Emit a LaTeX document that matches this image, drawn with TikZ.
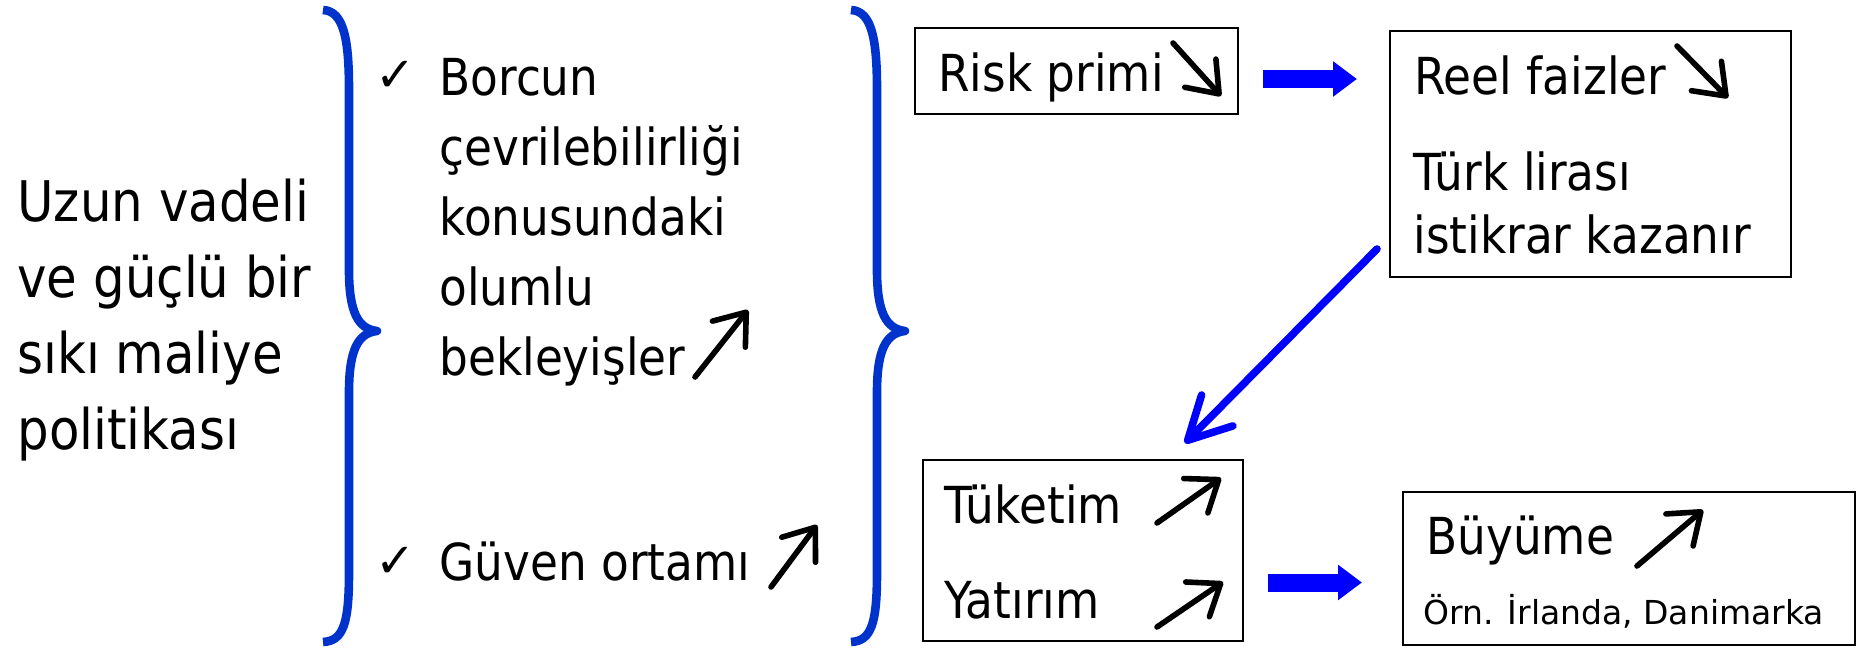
\documentclass[tikz,border=0pt]{standalone}
\usepackage{amssymb}
\usepackage{fontspec}
\setmainfont{DejaVu Sans}[FakeStretch=0.89]
\newfontfamily\plainfont{DejaVu Sans}
\usetikzlibrary{arrows.meta,calc}
\definecolor{braceblue}{RGB}{0,51,204}
\definecolor{arrowblue}{RGB}{0,0,255}
\tikzset{
  bracestyle/.style={draw=braceblue, line width=4.3pt, line join=round},
  boxstyle/.style={draw=black, line width=1pt, inner sep=0pt},
  maintext/.style={anchor=base west, inner sep=0pt, align=left, font=\fontsize{25.5pt}{35pt}\selectfont},
  lefttext/.style={anchor=base west, inner sep=0pt, align=left, font=\fontsize{28pt}{38pt}\selectfont},
  smalltext/.style={anchor=base west, inner sep=0pt, font=\plainfont\fontsize{16.5pt}{20pt}\selectfont},
  checkmark/.style={inner sep=0pt, font=\plainfont\fontsize{24pt}{26pt}\selectfont},
  trend/.style={line width=2.8pt, line cap=round, -{Straight Barb[length=14pt,width=21pt,round]}},
  blockarrow/.style={draw=arrowblue, line width=9pt, -{Triangle[length=12pt,width=17pt]}},
  diagarrow/.style={draw=arrowblue, line width=3.8pt, line cap=round, -{Straight Barb[length=21pt,width=22pt,round]}},
  mybrace/.pic={
    \draw[bracestyle] (323,10) .. controls (344,11) and (349,40) .. (349,90)
      -- (349,270) .. controls (349,312) and (358,329) .. (377,331)
      .. controls (358,333) and (349,350) .. (349,392)
      -- (349,572) .. controls (349,622) and (344,641) .. (323,642);
  }
}
\begin{document}
\begin{tikzpicture}[x=0.5pt, y=-0.5pt]
\useasboundingbox (0,0) rectangle (1865,648);

% left text (anchor = baseline of the last line)
\node[lefttext] (policy) at (17,449) {Uzun vadeli\\ve güçlü bir\\sıkı maliye\\politikası};

% braces
\pic at (0,0) {mybrace};
\pic at (528,0) {mybrace};

% middle column
\node[checkmark] (chk1) at (396,76) {✓};
\node[maintext] (expect) at (439,375) {Borcun\\çevrilebilirliği\\konusundaki\\olumlu\\bekleyişler};
\coordinate (e1) at (695,377); \coordinate (e2) at (748,310);
\draw[trend] (e1) -- (e2);

\node[checkmark] (chk2) at (396,562) {✓};
\node[maintext] (trust) at (439,580) {Güven ortamı};
\coordinate (g1) at (771,587); \coordinate (g2) at (817,525);
\draw[trend] (g1) -- (g2);

% boxes
\node[boxstyle, minimum width=161.5pt, minimum height=43pt] (risk) at (1076.5,71) {};
\node[boxstyle, minimum width=200.5pt, minimum height=123pt] (reel) at (1590.5,154) {};
\node[boxstyle, minimum width=160pt, minimum height=90.5pt] (tuk) at (1083,550.5) {};
\node[boxstyle, minimum width=226pt, minimum height=76.5pt] (buy) at (1629,568.5) {};

% box texts
\node[maintext] (risktxt) at (938,91) {Risk primi};
\coordinate (r1) at (1173,43); \coordinate (r2) at (1221,96);
\draw[trend] (r1) -- (r2);

\node[maintext] (reeltxt) at (1414,94) {Reel faizler};
\coordinate (f1) at (1677,46); \coordinate (f2) at (1728,98);
\draw[trend] (f1) -- (f2);

\node[maintext, font=\fontsize{25.5pt}{31.5pt}\selectfont] (tltxt) at (1413,253) {Türk lirası\\istikrar kazanır};

\node[maintext] (tuktxt) at (944,523) {Tüketim};
\coordinate (t1) at (1157,523); \coordinate (t2) at (1221,478);
\draw[trend] (t1) -- (t2);

\node[maintext] (yattxt) at (944,618) {Yatırım};
\coordinate (y1) at (1157,627); \coordinate (y2) at (1223,582);
\draw[trend] (y1) -- (y2);

\node[maintext] (buytxt) at (1426,554) {Büyüme};
\coordinate (b1) at (1637,566); \coordinate (b2) at (1703,510);
\draw[trend] (b1) -- (b2);

\node[smalltext] (example) at (1423,624) {Örn. İrlanda, Danimarka};

% blue connectors
\draw[blockarrow] ([xshift=12pt,yshift=-4pt]risk.east) -- ([xshift=-16pt,yshift=-4pt]risk.east -| reel.west);
\draw[diagarrow] ([xshift=-6pt,yshift=14.5pt]reel.south west) -- ([xshift=-29.5pt,yshift=8pt]tuk.north east);
\draw[blockarrow] ([xshift=12pt,yshift=-16pt]tuk.east) -- ([xshift=-20pt,yshift=-16pt]tuk.east -| buy.west);
\end{tikzpicture}
\end{document}
